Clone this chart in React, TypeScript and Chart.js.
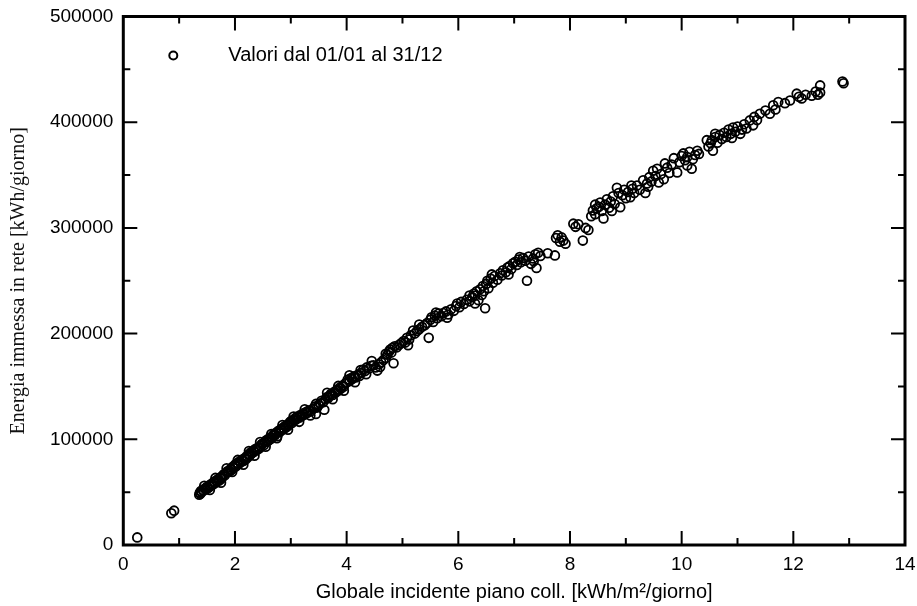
import React, { useEffect, useRef } from "react";
import { Chart, registerables } from "chart.js";

Chart.register(...registerables);

// Globale incidente piano coll. [kWh/m²/giorno]
const globale: number[] = [
  0.25, 0.86, 0.91,
  1.36, 1.37, 1.38, 1.39, 1.40, 1.42, 1.44, 1.46, 1.48,
  1.50, 1.52, 1.54, 1.56, 1.58, 1.60, 1.62, 1.64, 1.66, 1.68, 1.70, 1.72,
  1.74, 1.76, 1.78, 1.80, 1.82, 1.85, 1.87, 1.89, 1.92, 1.94, 1.96, 1.98,
  2.00, 2.02, 2.04, 2.06, 2.08, 2.10, 2.12, 2.15, 2.17, 2.19, 2.21, 2.23,
  2.25, 2.27, 2.29, 2.31, 2.33, 2.35, 2.37, 2.40, 2.42, 2.44, 2.46, 2.48,
  2.50, 2.52, 2.54, 2.56, 2.58, 2.60, 2.62, 2.64, 2.66, 2.68, 2.70, 2.72,
  2.74, 2.76, 2.78, 2.80, 2.82, 2.84, 2.86, 2.88, 2.90, 2.92, 2.94, 2.96, 2.98,
  3.00, 3.02, 3.04, 3.06, 3.08, 3.10, 3.12, 3.15, 3.17, 3.20, 3.22, 3.25,
  3.28, 3.30, 3.33, 3.36, 3.40, 3.43, 3.45, 3.47, 3.50,
  3.53, 3.55, 3.58, 3.60, 3.62, 3.65, 3.67, 3.70, 3.72, 3.75, 3.78, 3.80,
  3.83, 3.85, 3.88, 3.90, 3.93, 3.95, 3.98,
  4.00, 4.02, 4.05, 4.08, 4.10, 4.13, 4.16, 4.20, 4.23, 4.26, 4.30, 4.33,
  4.36, 4.40, 4.44, 4.48,
  4.52, 4.55, 4.58, 4.62, 4.66, 4.70, 4.73, 4.76, 4.78, 4.80, 4.82, 4.84,
  4.86, 4.90, 4.94, 4.98,
  5.02, 5.05, 5.08, 5.12, 5.15, 5.19, 5.22, 5.26, 5.30, 5.35, 5.40, 5.44, 5.47, 5.50,
  5.52, 5.55, 5.58, 5.62, 5.65, 5.70, 5.73, 5.78, 5.82, 5.87, 5.92, 5.96, 5.98,
  6.02, 6.05, 6.10, 6.15, 6.20, 6.25, 6.28, 6.30, 6.33, 6.36, 6.39, 6.42,
  6.44, 6.46, 6.48, 6.50,
  6.52, 6.54, 6.58, 6.62, 6.65, 6.70, 6.75, 6.78, 6.80, 6.85, 6.88, 6.92, 6.95, 6.98,
  7.02, 7.05, 7.08, 7.12, 7.16, 7.20, 7.23, 7.26, 7.30, 7.34, 7.38, 7.40, 7.43, 7.47,
  7.60, 7.73, 7.75, 7.78, 7.82, 7.85, 7.88, 7.92,
  8.06, 8.10, 8.15, 8.23, 8.28, 8.33, 8.38, 8.41, 8.45, 8.48,
  8.52, 8.54, 8.57, 8.60, 8.63, 8.66, 8.70, 8.73, 8.77, 8.80, 8.84, 8.87,
  8.90, 8.94, 8.97,
  9.00, 9.04, 9.08, 9.12, 9.15, 9.20, 9.25, 9.31, 9.35, 9.38, 9.42, 9.46, 9.49,
  9.53, 9.56, 9.59, 9.63, 9.68, 9.74, 9.78, 9.82, 9.86, 9.92, 9.96,
  10.00, 10.03, 10.06, 10.10, 10.14, 10.18, 10.20, 10.24, 10.28, 10.31,
  10.45, 10.48, 10.52, 10.54, 10.56, 10.60, 10.64, 10.68, 10.72, 10.76,
  10.80, 10.84, 10.88, 10.92, 10.96,
  11.00, 11.05, 11.08, 11.12, 11.16, 11.22, 11.28, 11.35, 11.40,
  11.58, 11.64, 11.68, 11.73, 11.85, 11.94,
  12.06, 12.10, 12.15, 12.22, 12.33, 12.40, 12.44, 12.48, 12.48, 12.88, 12.90,
  1.45, 1.55, 1.65, 1.75, 1.85, 1.95, 2.05, 2.15, 2.25, 2.35, 2.45, 2.55,
  2.65, 2.75, 2.85, 2.95, 3.05, 3.15, 3.25, 3.35, 3.45, 3.65, 3.75, 3.85,
  3.95, 4.05, 4.15, 4.25, 4.35, 4.45, 4.60, 4.70, 5.10, 5.30, 5.60, 5.80,
  6.20, 6.30, 6.60, 6.90, 7.10, 7.35,
  8.45, 8.75, 9.10, 9.40, 9.70, 10.10, 10.60, 10.90, 11.30, 11.50,
];

// Energia immessa in rete [kWh/giorno]
const energia: number[] = [
  7200, 30000, 32500,
  47500, 49500, 48500, 51000, 50000, 52000, 51500, 53500, 52500,
  55000, 54000, 56500, 55500, 58000, 57000, 59500, 58500, 61000, 60000, 62500, 61000,
  64000, 63000, 65500, 67000, 66000, 68500, 70000, 69000, 72000, 71000, 74000, 73000,
  76000, 74500, 77500, 76500, 79000, 78000, 80500, 79500, 82000, 81000, 84000, 83000,
  86000, 85000, 88000, 87000, 89500, 88500, 91000, 90000, 92500, 91500, 94000, 95500,
  96000, 94500, 97500, 99000, 98000, 100500, 99500, 102000, 101000, 103500, 105000, 104000,
  106500, 103000, 108000, 107000, 109500, 108500, 111000, 110000, 112500, 111500, 114000, 113000, 116000,
  117000, 115500, 118500, 117500, 120000, 119000, 121500, 120500, 123000, 122000, 124500, 123500,
  126000, 125000, 127500, 126500, 129000, 131000, 124000, 130000, 132500,
  134000, 136500, 135000, 128000, 138000, 140000, 139000, 141500, 143000, 142000, 145000, 144000,
  147000, 146000, 149000, 148000, 151000, 150000, 153000,
  154000, 156500, 155000, 158000, 157000, 159500, 158500, 161000, 160000, 163000, 166000, 164500,
  168000, 167000, 169500, 170000,
  168000, 165000, 171000, 173000, 175000, 177000, 180000, 183000, 185000, 182000, 186500, 172000,
  188000, 187000, 189500, 191000,
  193000, 191500, 196000, 194500, 198500, 203000, 200000, 202500, 204000, 206500, 208000, 210000, 196000, 213000,
  215500, 211000, 217000, 214500, 219000, 216500, 219500, 221000, 218000, 223000, 221500, 226000, 228500,
  225000, 230000, 228000, 232000, 230500, 234500, 238000, 236000, 240000, 231500, 242000, 236500,
  245000, 240000, 224000, 247000,
  250000, 243000, 252000, 248000, 254500, 251000, 257000, 255000, 260000, 258000, 262500, 264000, 261000, 266500,
  268000, 265000, 270000, 267500, 271500, 269000, 250000, 273000, 266000, 271000, 275000, 262000, 276500, 273500,
  276000, 274000, 290500, 293000, 287000, 291000, 288000, 285000,
  304000, 301000, 303500, 288000, 300000, 298000, 311000, 316500, 313000, 318500,
  320000, 324000, 316000, 309000, 322000, 327000, 319000, 325000, 330000, 322500, 338000, 333000,
  319500, 331000, 336000,
  328000, 334000, 329000, 337000, 333000, 340000, 336000, 345000, 333000, 342000, 348000, 344000, 354000,
  349000, 356000, 343000, 351000, 346000, 357000, 352000, 360000, 366000, 352500, 362000,
  368000, 370500, 364000, 367000, 372000, 356000, 365000, 369000, 373000, 370000,
  383000, 377000, 380000, 383000, 373000, 386000, 380500, 388000, 384000, 390000,
  386000, 393000, 389000, 395000, 391000,
  396000, 389000, 393000, 398000, 394000, 401700, 397000, 402000, 408000,
  408000, 416000, 412000, 419000, 418000, 420600,
  427000, 424000, 422500, 426000, 425000, 429000, 426000, 434800, 428000, 438500, 436800,
  56000, 52000, 63500, 59000, 72500, 69000, 80500, 76000, 89000, 84500, 97500, 93000,
  105000, 101000, 113500, 109000, 121500, 116500, 128500, 122500, 133500, 144000, 138000, 150500,
  146000, 160500, 154000, 165500, 161500, 174000, 168500, 181000, 189000, 208500, 220000, 215000,
  236000, 228500, 256000, 256000, 272500, 268500,
  322000, 316000, 340000, 339000, 361000, 359000, 389000, 385000, 405000, 411000,
];

const xMin = 0;
const xMax = 14;
const xStep = 2;
const yMin = 0;
const yMax = 500000;
const yStep = 100000;

const legendLabel = "Valori dal 01/01 al 31/12";
const xTitle = "Globale incidente piano coll. [kWh/m²/giorno]";
const yTitle = "Energia immessa in rete [kWh/giorno]";

const SANS = '"Liberation Sans", Arial, Helvetica, sans-serif';
const SERIF = '"Liberation Serif", "Times New Roman", serif';

const frameAndTicks = {
  id: "frameAndTicks",
  afterDatasetsDraw(chart: any) {
    const { ctx, chartArea: a, scales } = chart;
    const x = scales.x;
    const y = scales.y;
    ctx.save();
    ctx.strokeStyle = "#000";
    ctx.lineWidth = 2;
    ctx.beginPath();
    const xHalf = xStep / 2;
    for (let v = x.min + xHalf; v < x.max; v += xHalf) {
      const px = x.getPixelForValue(v);
      const major = Math.abs(v / xStep - Math.round(v / xStep)) < 1e-6;
      const len = major ? 14 : 7;
      ctx.moveTo(px, a.bottom);
      ctx.lineTo(px, a.bottom - len);
      ctx.moveTo(px, a.top);
      ctx.lineTo(px, a.top + len);
    }
    const yHalf = yStep / 2;
    for (let v = y.min + yHalf; v < y.max; v += yHalf) {
      const py = y.getPixelForValue(v);
      const major = Math.abs(v / yStep - Math.round(v / yStep)) < 1e-6;
      const len = major ? 14 : 7;
      ctx.moveTo(a.left, py);
      ctx.lineTo(a.left + len, py);
      ctx.moveTo(a.right, py);
      ctx.lineTo(a.right - len, py);
    }
    ctx.stroke();

    ctx.lineWidth = 3;
    ctx.strokeRect(a.left, a.top, a.right - a.left, a.bottom - a.top);

    // legend
    ctx.lineWidth = 2;
    ctx.beginPath();
    ctx.arc(a.left + 50, a.top + 39, 4, 0, Math.PI * 2);
    ctx.stroke();
    ctx.fillStyle = "#000";
    ctx.font = `20px ${SANS}`;
    ctx.textAlign = "left";
    ctx.textBaseline = "middle";
    ctx.fillText(legendLabel, a.left + 105, a.top + 39);
    ctx.restore();
  },
};

const zeroPad = (s: any) => {
  s.paddingTop = 0;
  s.paddingBottom = 0;
  s.paddingLeft = 0;
  s.paddingRight = 0;
};

export default function App() {
  const ref = useRef<HTMLCanvasElement | null>(null);

  useEffect(() => {
    const canvas = ref.current;
    if (!canvas) return;
    const points = globale.map((g, i) => ({ x: g, y: energia[i] }));
    const chart = new Chart(canvas, {
      type: "scatter",
      data: {
        datasets: [
          {
            label: legendLabel,
            data: points,
            pointStyle: "circle",
            pointRadius: 4.4,
            pointBorderWidth: 1.8,
            pointBorderColor: "#000",
            pointBackgroundColor: "rgba(0,0,0,0)",
            showLine: false,
          },
        ],
      },
      options: {
        responsive: false,
        devicePixelRatio: 1,
        animation: false,
        layout: { padding: { top: 16.5, right: 12, left: 0, bottom: 0 } },
        plugins: {
          legend: { display: false },
          tooltip: { enabled: false },
        },
        scales: {
          x: {
            type: "linear",
            position: "bottom",
            min: xMin,
            max: xMax,
            grid: { display: false, drawTicks: false },
            border: { display: false },
            ticks: {
              stepSize: xStep,
              color: "#000",
              font: { family: SANS, size: 19 },
              padding: 8,
              maxRotation: 0,
              autoSkip: false,
              callback: (v: any) => String(v),
            },
            title: {
              display: true,
              text: xTitle,
              color: "#000",
              font: { family: SANS, size: 20 },
              padding: { top: 0, bottom: 2 },
            },
            afterFit: (s: any) => {
              s.height = 61;
              zeroPad(s);
            },
          },
          y: {
            type: "linear",
            position: "left",
            min: yMin,
            max: yMax,
            grid: { display: false, drawTicks: false },
            border: { display: false },
            ticks: {
              stepSize: yStep,
              color: "#000",
              font: { family: SANS, size: 19 },
              padding: 10,
              autoSkip: false,
              callback: (v: any) => String(v),
            },
            title: {
              display: true,
              text: yTitle,
              color: "#111",
              font: { family: SERIF, size: 20 },
              padding: { top: 7, bottom: 0 },
            },
            afterFit: (s: any) => {
              s.width = 123.3;
              zeroPad(s);
            },
          },
        },
      },
      plugins: [frameAndTicks],
    });
    return () => chart.destroy();
  }, []);

  return (
    <div style={{ position: "absolute", left: 0, top: 0, width: 917, height: 606, background: "#fff" }}>
      <canvas ref={ref} width={917} height={606} style={{ display: "block" }} />
    </div>
  );
}
